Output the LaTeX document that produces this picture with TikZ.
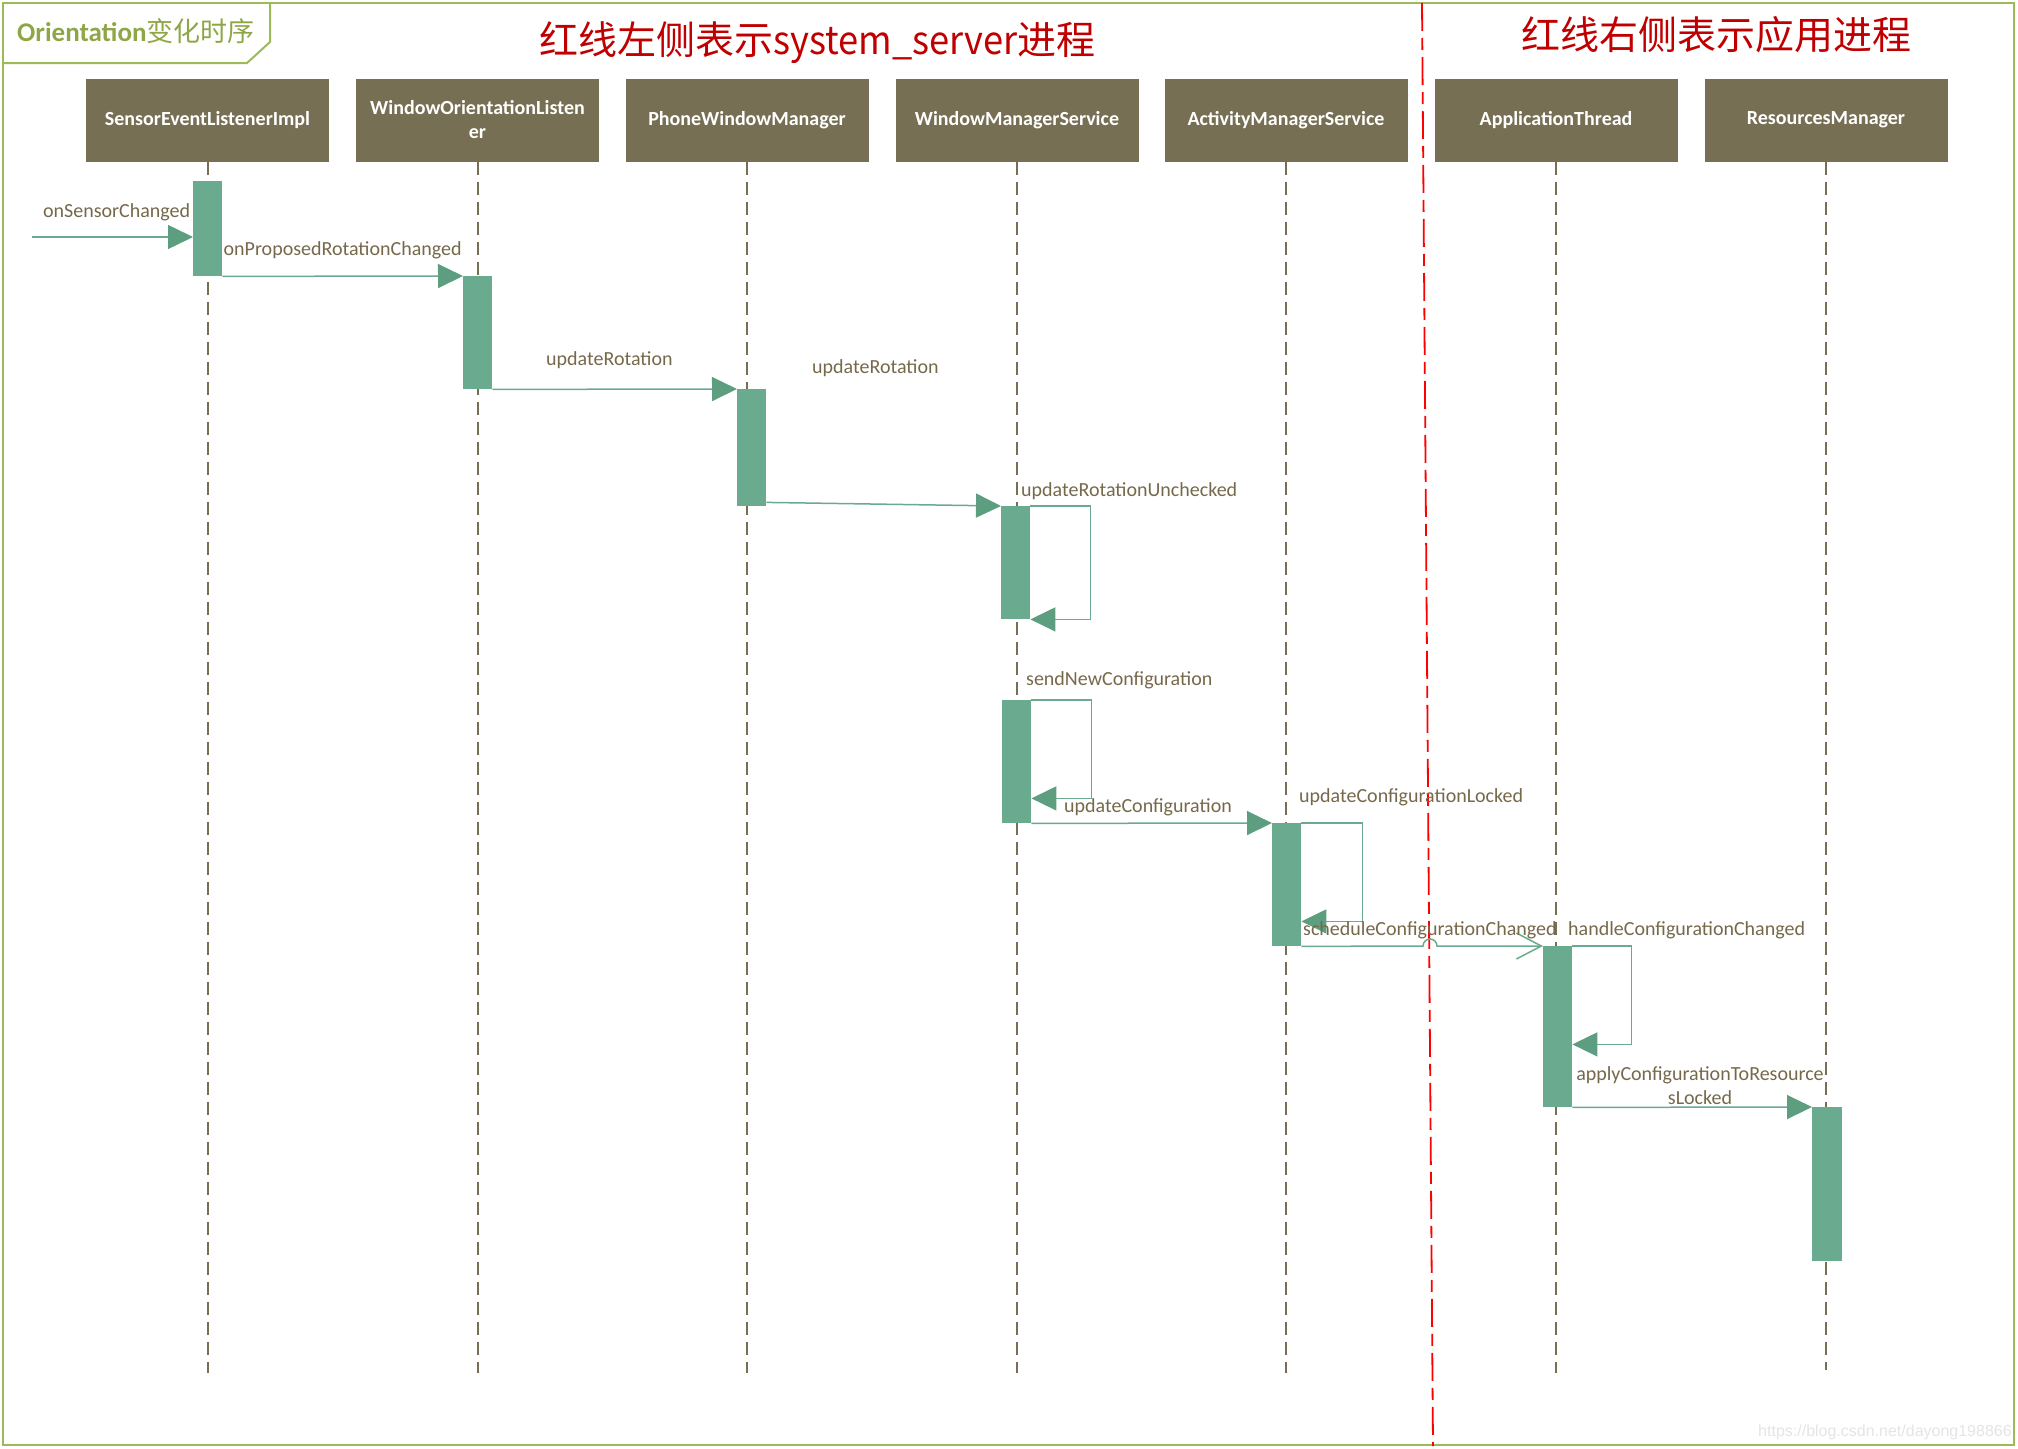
\documentclass[tikz,border=0pt]{standalone}
\usepackage{fontspec}
\usepackage{graphicx}
\setmainfont{Carlito}
\newfontfamily\cjk{Noto Sans CJK SC}
\newfontfamily\wmfont{Liberation Sans}
\usetikzlibrary{arrows.meta,calc}
\definecolor{boxc}{RGB}{119,111,83}
\definecolor{barc}{RGB}{106,170,142}
\definecolor{arrc}{RGB}{94,158,128}
\definecolor{lblc}{RGB}{118,104,74}
\definecolor{framec}{RGB}{155,187,89}
\definecolor{tabtext}{RGB}{143,166,70}
\definecolor{redt}{RGB}{192,0,0}
\definecolor{redl}{RGB}{255,0,0}
\definecolor{wmc}{RGB}{228,228,228}
\tikzset{
  obj/.style={fill=boxc, text=white, minimum width=243pt, minimum height=83pt, inner sep=0pt, align=center,
    font=\fontsize{20pt}{24pt}\selectfont\bfseries},
  bar/.style={fill=barc, draw=none, inner sep=0pt, anchor=north west},
  life/.style={draw=boxc, line width=2pt, dash pattern=on 13pt off 7pt},
  msg/.style={draw=barc, line width=1.5pt, -{Triangle[length=25pt,width=24pt,color=arrc]}},
  amsg/.style={draw=barc, line width=1.5pt, -{Straight Barb[length=25pt,width=26pt]}},
  lbl/.style={text=lblc, inner sep=0pt, anchor=west, text height=14pt, text depth=5pt,
    font=\fontsize{20pt}{24pt}\selectfont},
}
\begin{document}
\begin{tikzpicture}[x=1pt,y=-1pt]
\useasboundingbox (0,0) rectangle (2018,1448);
% frame and tab
\draw[framec, line width=2.5pt] (3,3) rectangle (2014,1445);
\draw[framec, line width=2pt] (270,3) -- (270,42) -- (247,63) -- (3,63);
\node[anchor=base west, inner sep=0pt, text=tabtext, font=\fontsize{27pt}{31pt}\selectfont] (tab) at (17,41)
  {\bfseries Orientation{\cjk\mdseries 变化时序}};
% titles
\node[anchor=base west, inner sep=0pt, text=redt, font=\cjk\fontsize{39pt}{46pt}\selectfont] (t1) at (539,54)
  {红线左侧表示\scalebox{0.93}[1]{system\_server}进程};
\node[anchor=base west, inner sep=0pt, text=redt, font=\cjk\fontsize{39pt}{46pt}\selectfont] (t2) at (1521,49)
  {红线右侧表示应用进程};
% red separator
\coordinate (rtop) at (1422,3);
\coordinate (rbot) at (1433,1446);
\draw[redl, line width=1.8pt, dash pattern=on 28pt off 7pt on 12pt off 7pt] (rtop) -- (rbot);
% objects
\node[obj] (o1) at (207.5,120) {SensorEventListenerImpl};
\node[obj] (o2) at (477.5,120) {WindowOrientationListen\\er};
\node[obj] (o3) at (747,120) {PhoneWindowManager};
\node[obj] (o4) at (1017,120) {WindowManagerService};
\node[obj] (o5) at (1286,120) {ActivityManagerService};
\node[obj] (o6) at (1556,120) {ApplicationThread};
\node[obj] (o7) at (1826,120) {ResourcesManager};
% lifelines
\foreach \o/\l in {o1/1211,o2/1211,o3/1211,o4/1211,o5/1211,o6/1211,o7/1208}
  \draw[life] (\o.south) -- ++(0,\l);
% activation bars
\node[bar, minimum width=29pt, minimum height=95pt] (b1) at (193,181) {};
\node[bar, minimum width=29pt, minimum height=113pt] (b2) at (463,276) {};
\node[bar, minimum width=29pt, minimum height=117pt] (b3) at (737,389) {};
\node[bar, minimum width=29pt, minimum height=113pt] (b4) at (1001,506) {};
\node[bar, minimum width=29pt, minimum height=123pt] (b5) at (1002,700) {};
\node[bar, minimum width=29pt, minimum height=123pt] (b6) at (1272,823) {};
\node[bar, minimum width=29pt, minimum height=161pt] (b7) at (1543,946) {};
\node[bar, minimum width=30pt, minimum height=154pt] (b8) at (1812,1107) {};
% messages
\coordinate (start) at (32,237);
\draw[msg] (start) -- (start -| b1.west);
\draw[msg] (b1.south east) -- (b2.north west);
\draw[msg] (b2.south east) -- (b3.north west);
\draw[msg] ([yshift=4pt]b3.south east) -- (b4.north west);
\draw[msg] (b4.north east) -- ++(60,0) |- (b4.south east);
\draw[msg] (b5.north east) -- ++(60,0) |- ([yshift=25pt]b5.south east);
\draw[msg] (b5.south east) -- (b6.north west);
\draw[msg] (b6.north east) -- ++(61,0) |- ([yshift=25pt]b6.south east);
\draw[amsg] (b6.south east) -- (1423,946) arc[start angle=180, end angle=0, radius=7pt] -- (b7.north west);
\draw[msg] (b7.north east) -- ++(59,0) |- ([yshift=63pt]b7.south east);
\draw[msg] (b7.south east) -- (b8.north west);
% labels
\node[lbl] (l1) at (43,213) {onSensorChanged};
\node[lbl] (l2) at (223.5,251) {onProposedRotationChanged};
\node[lbl] (l3) at (546,361) {updateRotation};
\node[lbl] (l4) at (812,369) {updateRotation};
\node[lbl] (l5) at (1021,492) {updateRotationUnchecked};
\node[lbl] (l6) at (1026,681) {sendNewConfiguration};
\node[lbl] (l7) at (1064,808) {updateConfiguration};
\node[lbl] (l8) at (1299,798) {updateConfigurationLocked};
\node[lbl] (l9) at (1303,931) {scheduleConfigurationChanged};
\node[lbl] (l10) at (1568,931) {handleConfigurationChanged};
\node[text=lblc, inner sep=0pt, align=center, font=\fontsize{20pt}{24pt}\selectfont] (l11) at (1700,1086)
  {applyConfigurationToResource\\sLocked};
% watermark
\node[anchor=base west, inner sep=0pt, text=wmc, font=\wmfont\fontsize{16pt}{19pt}\selectfont] (wm) at (1758,1436)
  {https://blog.csdn.net/dayong198866};
\end{tikzpicture}
\end{document}
